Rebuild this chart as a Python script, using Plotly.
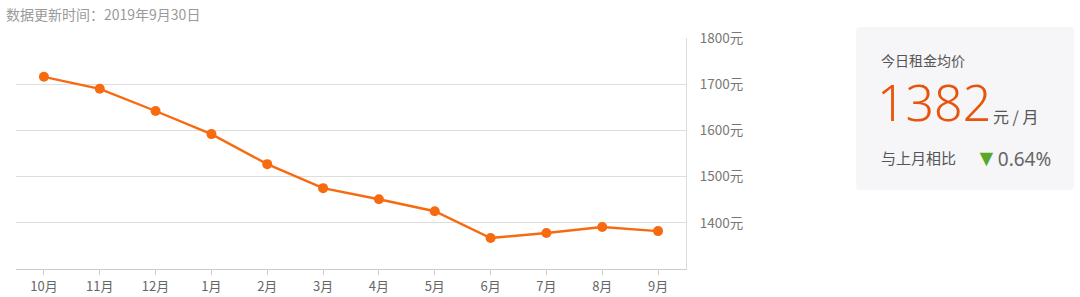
import plotly.graph_objects as go

months = ["10月", "11月", "12月", "1月", "2月", "3月", "4月", "5月", "6月", "7月", "8月", "9月"]
rent = [1716, 1690, 1642, 1592, 1527, 1475, 1451, 1425, 1367, 1378, 1391, 1382]
y_ticks = [1400, 1500, 1600, 1700, 1800]
y_tick_labels = ["1400元", "1500元", "1600元", "1700元", "1800元"]
update_text = "数据更新时间：2019年9月30日"
card_title = "今日租金均价"
current_price = "1382"
price_unit = "元 / 月"
compare_label = "与上月相比"
compare_value = "0.64%"

W, H = 1080, 297
def px(x): return x / W
def py(y): return 1 - y / H

LINE = "#f86a10"
FONT = "Noto Sans CJK SC, Noto Sans, sans-serif"

fig = go.Figure()
fig.add_trace(go.Scatter(
    x=months, y=rent, mode="lines+markers",
    line=dict(color=LINE, width=2.4),
    marker=dict(color=LINE, size=10),
    hoverinfo="x+y", showlegend=False,
))

x0, x1, y0, y1, r = 856, 1074, 27, 190, 4
path = (f"M {px(x0+r)},{py(y0)} L {px(x1-r)},{py(y0)} Q {px(x1)},{py(y0)} {px(x1)},{py(y0+r)} "
        f"L {px(x1)},{py(y1-r)} Q {px(x1)},{py(y1)} {px(x1-r)},{py(y1)} "
        f"L {px(x0+r)},{py(y1)} Q {px(x0)},{py(y1)} {px(x0)},{py(y1-r)} "
        f"L {px(x0)},{py(y0+r)} Q {px(x0)},{py(y0)} {px(x0+r)},{py(y0)} Z")

fig.update_layout(
    width=W, height=H,
    margin=dict(l=0, r=0, t=0, b=0, autoexpand=False),
    paper_bgcolor="white", plot_bgcolor="white",
    font=dict(family=FONT, color="#666"),
    xaxis=dict(
        domain=[px(16), px(686)],
        type="category", range=[-0.5, 11.5], automargin=False,
        showgrid=False, showline=True, linecolor="#cccccc", linewidth=1,
        ticks="outside", ticklen=5, tickcolor="#cccccc",
        tickfont=dict(size=13, color="#666", family=FONT),
        fixedrange=True,
    ),
    yaxis=dict(
        domain=[py(269), py(38)],
        range=[1300, 1800], side="right", automargin=False,
        tickvals=y_ticks, ticktext=y_tick_labels,
        showgrid=True, gridcolor="#dedede", gridwidth=1,
        showline=True, linecolor="#dddddd", linewidth=1,
        zeroline=False, ticks="", ticklabelstandoff=10,
        tickfont=dict(size=13.5, color="#777", family=FONT),
        fixedrange=True,
    ),
    shapes=[dict(type="path", path=path, xref="paper", yref="paper",
                 fillcolor="#f6f6f8", line=dict(width=0), layer="below")],
    annotations=[
        dict(text=update_text, x=px(4), y=py(14), xref="paper", yref="paper",
             xanchor="left", yanchor="middle", showarrow=False,
             font=dict(size=14, color="#9a9a9a", family=FONT)),
        dict(text=card_title, x=px(879), y=py(60), xref="paper", yref="paper",
             xanchor="left", yanchor="middle", showarrow=False,
             font=dict(size=14, color="#555", family=FONT)),
        dict(text=current_price, x=px(875), y=py(102), xref="paper", yref="paper",
             xanchor="left", yanchor="middle", showarrow=False,
             font=dict(size=50, color="#e8540c", family="Noto Sans, sans-serif", weight=300)),
        dict(text=price_unit, x=px(991), y=py(116), xref="paper", yref="paper",
             xanchor="left", yanchor="middle", showarrow=False,
             font=dict(size=16, color="#555", family=FONT)),
        dict(text=compare_label, x=px(879), y=py(157), xref="paper", yref="paper",
             xanchor="left", yanchor="middle", showarrow=False,
             font=dict(size=15, color="#555", family=FONT)),
        dict(text="<span style='color:#5aa82a;font-size:23px'>▼</span>" + compare_value,
             x=px(973), y=py(157), xref="paper", yref="paper",
             xanchor="left", yanchor="middle", showarrow=False,
             font=dict(size=19, color="#666", family="Noto Sans, sans-serif")),
    ],
)

fig.write_html("out.html", config={"displayModeBar": False})
